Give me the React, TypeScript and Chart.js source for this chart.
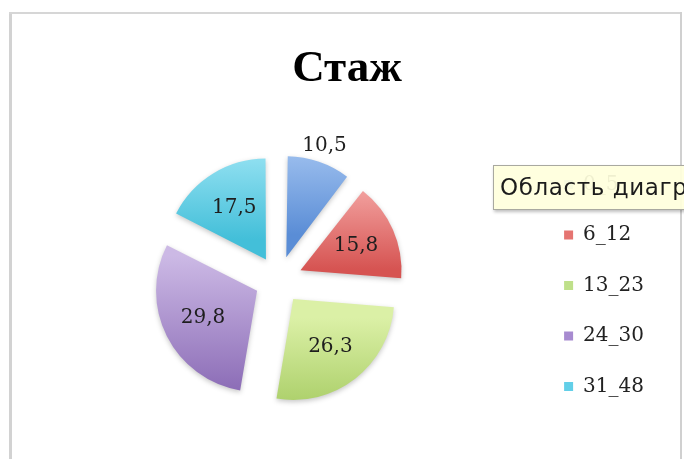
import React, { useEffect, useRef } from 'react';
import { Chart, registerables } from 'chart.js';

Chart.register(...registerables);

const chartTitle = 'Стаж';
const categories = ['0_5', '6_12', '13_23', '24_30', '31_48'];
const values = [10.5, 15.8, 26.3, 29.8, 17.5];
const lightColors = ['#aac9f3', '#f5a9a7', '#dbf0a6', '#ccb9e5', '#a2e7f6'];
const darkColors = ['#5a8dd6', '#d65452', '#a4ca60', '#8767b3', '#43bfd9'];
const legendColors = ['#7fa8e2', '#e57471', '#bfe08a', '#a78bd0', '#62cfe8'];
const hoverNote = 'Область диаграммы';

const PIE_RADIUS = 101;
const PIE_OFFSET = 96; // Chart.js translates arcs by offset / 4

const total = values.reduce((a, b) => a + b, 0);
const formatValue = (v: number) => String(v).replace('.', ',');

const sliceGradient = (context: any) => {
  const chart = context.chart;
  const area = chart.chartArea;
  const i = context.dataIndex;
  if (!area || i === undefined) return darkColors[0];
  const cx = (area.left + area.right) / 2;
  const cy = (area.top + area.bottom) / 2;
  let cum = 0;
  for (let k = 0; k < i; k++) cum += values[k];
  const a0 = -Math.PI / 2 + (2 * Math.PI * cum) / total;
  const a1 = a0 + (2 * Math.PI * values[i]) / total;
  const mid = (a0 + a1) / 2;
  const sh = PIE_OFFSET / 4;
  const ay = cy + Math.sin(mid) * sh;
  let ymin = ay;
  let ymax = ay;
  for (let s = 0; s <= 32; s++) {
    const a = a0 + ((a1 - a0) * s) / 32;
    const yy = ay + Math.sin(a) * PIE_RADIUS;
    ymin = Math.min(ymin, yy);
    ymax = Math.max(ymax, yy);
  }
  const g = chart.ctx.createLinearGradient(0, ymin, 0, ymax);
  g.addColorStop(0, lightColors[i]);
  g.addColorStop(1, darkColors[i]);
  return g;
};

// Chart.js grows narrow exploded slices by (offset/4)*(1-sin(circumference)); undo that
// so every slice keeps the same radius, as in the reference.
const equalRadius = (arc: any) => {
  const circ = arc.endAngle - arc.startAngle;
  const sh = (arc.options.offset || 0) / 4;
  return sh * (1 - Math.sin(Math.min(Math.PI, circ)));
};

const sliceLabels = {
  id: 'sliceLabels',
  beforeDatasetsDraw(chart: any) {
    const meta = chart.getDatasetMeta(0);
    const base = meta.controller.outerRadius;
    meta.data.forEach((arc: any) => {
      arc.outerRadius = base - equalRadius(arc);
    });
    const c = chart.ctx;
    c.save();
    c.shadowColor = 'rgba(0,0,0,0.22)';
    c.shadowBlur = 5;
    c.shadowOffsetX = 0;
    c.shadowOffsetY = 2;
  },
  afterDatasetsDraw(chart: any) {
    const c = chart.ctx;
    c.restore();
    const meta = chart.getDatasetMeta(0);
    const base = meta.controller.outerRadius;
    c.save();
    c.font = '20px "DejaVu Serif"';
    c.fillStyle = '#1e1e1e';
    c.textAlign = 'center';
    c.textBaseline = 'middle';
    meta.data.forEach((arc: any, i: number) => {
      const { x, y, startAngle, endAngle } = arc;
      const mid = (startAngle + endAngle) / 2;
      const sh = (arc.options.offset || 0) / 4;
      const frac = values[i] / total;
      const d = frac < 0.12 ? base + 17 : base * 0.6;
      c.fillText(formatValue(values[i]), x + Math.cos(mid) * (sh + d), y + Math.sin(mid) * (sh + d));
    });
    c.restore();
  },
};

export default function App() {
  const ref = useRef<HTMLCanvasElement>(null);

  useEffect(() => {
    const canvas = ref.current;
    if (!canvas) return;
    const chart = new Chart(canvas, {
      type: 'pie',
      data: {
        labels: categories,
        datasets: [
          {
            data: values,
            backgroundColor: sliceGradient,
            borderWidth: 0,
            offset: PIE_OFFSET,
            radius: PIE_RADIUS,
          } as any,
        ],
      },
      options: {
        responsive: false,
        animation: false,
        devicePixelRatio: 1,
        events: [],
        layout: { padding: { left: 23.4, right: 13.4, top: 12, bottom: 32 } },
        plugins: {
          title: {
            display: true,
            text: chartTitle,
            color: '#000',
            font: { family: '"Liberation Serif"', size: 45, weight: 'bold' },
            padding: { top: 30, bottom: 37 },
          },
          subtitle: {
            display: true,
            position: 'right',
            text: '',
            font: { size: 10 },
            padding: { top: 0, bottom: 4.6 },
          },
          legend: {
            position: 'right',
            align: 'end',
            labels: {
              boxWidth: 9,
              boxHeight: 9,
              padding: 30.5,
              color: '#222',
              font: { family: '"DejaVu Serif"', size: 20 },
              generateLabels: () =>
                categories.map((t, i) => ({
                  text: t,
                  fillStyle: legendColors[i],
                  strokeStyle: legendColors[i],
                  lineWidth: 0,
                  hidden: false,
                  index: i,
                  fontColor: '#222',
                })),
            },
          },
          tooltip: { enabled: false },
        },
      } as any,
      plugins: [sliceLabels],
    });
    return () => chart.destroy();
  }, []);

  return (
    <div
      style={{
        position: 'fixed',
        left: 0,
        top: 0,
        width: 684,
        height: 459,
        overflow: 'hidden',
        background: '#fff',
      }}
    >
      <canvas ref={ref} width={684} height={459} style={{ position: 'absolute', left: 0, top: 0, width: 684, height: 459 }} />
      <div style={{ position: 'absolute', left: 9, top: 12, width: 3, height: 447, background: '#d2d2d2' }} />
      <div style={{ position: 'absolute', left: 9, top: 12, width: 673, height: 2, background: '#d6d6d6' }} />
      <div style={{ position: 'absolute', left: 680, top: 12, width: 2, height: 447, background: '#d0d0d0' }} />
      <div
        style={{
          position: 'absolute',
          left: 493,
          top: 165,
          width: 230,
          height: 45,
          boxSizing: 'border-box',
          background: 'rgba(255,255,221,0.93)',
          border: '1px solid #a9a9a0',
          boxShadow: '1px 2px 3px rgba(0,0,0,0.25)',
          font: '23px "DejaVu Sans"',
          letterSpacing: '0.6px',
          color: '#1c1c1c',
          lineHeight: '43px',
          paddingLeft: 6,
          whiteSpace: 'nowrap',
        }}
      >
        {hoverNote}
      </div>
    </div>
  );
}
